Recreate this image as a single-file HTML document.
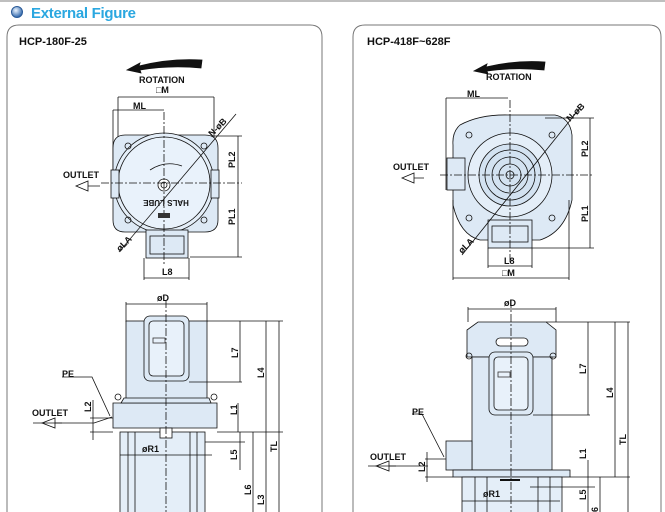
<!DOCTYPE html>
<html><head><meta charset="utf-8"><style>
html,body{margin:0;padding:0;background:#fff;width:665px;height:512px;overflow:hidden}
svg{display:block}
text{font-family:"Liberation Sans",sans-serif;font-weight:bold;fill:#111}
</style></head><body>
<svg width="665" height="512" viewBox="0 0 665 512" xmlns="http://www.w3.org/2000/svg">
<defs>
<radialGradient id="g" cx="40%" cy="35%" r="60%"><stop offset="0" stop-color="#eaf4ff"/><stop offset="1" stop-color="#3b6fb0"/></radialGradient>
</defs>
<line x1="0" y1="1" x2="665" y2="1" stroke="#aaa" stroke-width="1.5"/>
<circle cx="17" cy="12" r="5.5" fill="url(#g)" stroke="#2a5a98"/>
<text x="31" y="18" font-size="15" style="fill:#2aa7e0;letter-spacing:-0.3px">External  Figure</text>
<path d="M7,520 V37 Q7,25 19,25 H310 Q322,25 322,37 V520" fill="none" stroke="#777" stroke-width="1"/>
<path d="M353,520 V37 Q353,25 365,25 H649 Q661,25 661,37 V520" fill="none" stroke="#777" stroke-width="1"/>
<text x="19" y="45" font-size="11">HCP-180F-25</text>
<text x="367" y="45" font-size="11">HCP-418F~628F</text>

<g stroke="#111" stroke-width="0.8" fill="none">
<path d="M127,70 L140,63 L139,66 Q170,58 202,60 L201,68 Q170,65 140,70 L141,73 Z" fill="#111"/>
<line x1="118" y1="97" x2="214" y2="97"/><line x1="118" y1="97" x2="118" y2="180"/><line x1="214" y1="97" x2="214" y2="140"/>
<line x1="113" y1="110" x2="164" y2="110"/><line x1="113" y1="110" x2="113" y2="180"/>
<path d="M125,135 H205 Q218,135 218,148 V220 Q218,232 205,232 H125 Q113,232 113,220 V148 Q113,135 125,135 Z" fill="#dde9f5"/>
<circle cx="164" cy="183" r="50" fill="#e4eef8"/>
<circle cx="164" cy="183" r="46" fill="#e9f2fb"/>
<circle cx="164" cy="185" r="6" fill="#fff"/><circle cx="164" cy="185" r="3"/>
<rect x="146" y="230" width="42" height="28" fill="#dde9f5"/><rect x="150" y="236" width="34" height="18"/>
<rect x="111" y="170" width="8" height="28" fill="#dde9f5"/><rect x="211" y="170" width="8" height="28" fill="#dde9f5"/>
<circle cx="128" cy="146" r="3"/><circle cx="204" cy="146" r="3"/><circle cx="128" cy="220" r="3"/><circle cx="204" cy="220" r="3"/>
<path d="M150,170 Q165,160 182,166"/>
<line x1="101" y1="183" x2="242" y2="183" stroke-dasharray="8,2,2,2"/>
<line x1="164" y1="112" x2="164" y2="265" stroke-dasharray="8,2,2,2"/>
<line x1="119" y1="252" x2="236" y2="114"/>
<line x1="212" y1="136" x2="242" y2="136"/><line x1="190" y1="257" x2="242" y2="257"/>
<line x1="238" y1="136" x2="238" y2="257"/>
<line x1="144" y1="258" x2="144" y2="280"/><line x1="189" y1="258" x2="189" y2="280"/><line x1="144" y1="278" x2="189" y2="278"/>
<path d="M76,186 L88,181 V191 Z M88,186 H100"/>
</g>
<text x="139" y="83" font-size="9">ROTATION</text>
<text x="156" y="93" font-size="9">□M</text>
<text x="133" y="109" font-size="9">ML</text>
<text x="63" y="178" font-size="9">OUTLET</text>
<text x="166" y="206" font-size="8" text-anchor="middle" transform="rotate(180 166 203)">HALS LUBE</text>
<rect x="158" y="213" width="12" height="5" fill="#333"/>
<text x="235" y="168" font-size="9" transform="rotate(-90 235 168)">PL2</text>
<text x="235" y="225" font-size="9" transform="rotate(-90 235 225)">PL1</text>
<text x="212" y="137" font-size="9" transform="rotate(-45 212 137)">N-øB</text>
<text x="120" y="252" font-size="9" transform="rotate(-45 120 252)">øLA</text>
<text x="162" y="275" font-size="9">L8</text>

<g stroke="#111" stroke-width="0.8" fill="none">
<line x1="126" y1="304" x2="207" y2="304"/><line x1="126" y1="302" x2="126" y2="322"/><line x1="207" y1="302" x2="207" y2="322"/>
<rect x="126" y="321" width="81" height="78" fill="#dde9f5"/>
<rect x="144" y="316" width="45" height="65" rx="6" fill="#dde9f5"/><rect x="149" y="321" width="35" height="55" rx="4" fill="#e8f1fa"/>
<path d="M113,403 H217 V428 H113 Z" fill="#dde9f5"/><path d="M124,398 H209 L211,403 H121 Z" fill="#dde9f5"/>
<circle cx="118" cy="397" r="3"/><circle cx="214" cy="397" r="3"/>
<rect x="120" y="432" width="85" height="85" fill="#e4eef8"/>
<line x1="128" y1="432" x2="128" y2="512"/><line x1="135" y1="432" x2="135" y2="512"/><line x1="190" y1="432" x2="190" y2="512"/><line x1="197" y1="432" x2="197" y2="512"/>
<rect x="160" y="428" width="12" height="10" fill="#fff"/>
<line x1="166" y1="300" x2="166" y2="512" stroke-dasharray="8,2,2,2"/>
<line x1="207" y1="321" x2="283" y2="321"/><line x1="189" y1="382" x2="242" y2="382"/>
<line x1="240" y1="321" x2="240" y2="382"/><line x1="266" y1="321" x2="266" y2="432"/><line x1="279" y1="321" x2="279" y2="512"/>
<line x1="217" y1="432" x2="283" y2="432"/><line x1="238" y1="403" x2="238" y2="432"/>
<line x1="205" y1="442" x2="245" y2="442"/><line x1="240" y1="432" x2="240" y2="470"/>
<line x1="253" y1="432" x2="253" y2="512"/><line x1="266" y1="432" x2="266" y2="512"/>
<line x1="120" y1="455" x2="212" y2="455"/>
<line x1="90" y1="418" x2="113" y2="418"/><line x1="90" y1="432" x2="113" y2="432"/><line x1="93" y1="400" x2="93" y2="440"/>
<path d="M33,423 H94 L112,417"/>
<path d="M42,423 L55,418 V428 Z M55,423 H62"/>
<path d="M62,377 H92 L110,416"/>
</g>
<text x="157" y="301" font-size="9">øD</text>
<rect x="153" y="338" width="12" height="5" fill="none" stroke="#333" stroke-width="0.8"/>
<text x="62" y="377" font-size="9">PE</text>
<text x="32" y="416" font-size="9">OUTLET</text>
<text x="91" y="412" font-size="9" transform="rotate(-90 91 412)">L2</text>
<text x="238" y="358" font-size="9" transform="rotate(-90 238 358)">L7</text>
<text x="264" y="378" font-size="9" transform="rotate(-90 264 378)">L4</text>
<text x="237" y="415" font-size="9" transform="rotate(-90 237 415)">L1</text>
<text x="237" y="460" font-size="9" transform="rotate(-90 237 460)">L5</text>
<text x="251" y="495" font-size="9" transform="rotate(-90 251 495)">L6</text>
<text x="264" y="505" font-size="9" transform="rotate(-90 264 505)">L3</text>
<text x="277" y="452" font-size="9" transform="rotate(-90 277 452)">TL</text>
<text x="142" y="452" font-size="9">øR1</text>

<g stroke="#111" stroke-width="0.8" fill="none">
<path d="M474,71 L487,64 L486,67 Q515,60 545,62 L544,70 Q515,67 487,71 L488,74 Z" fill="#111"/>
<line x1="446" y1="98" x2="508" y2="98"/><line x1="446" y1="98" x2="446" y2="190"/>
<path d="M460,125 Q480,114 510,115 H555 Q570,118 572,135 V200 Q565,232 540,240 H480 Q460,235 453,205 V145 Q452,132 460,125 Z" fill="#dde9f5"/>
<circle cx="510" cy="175" r="42" fill="#e4eef8"/>
<circle cx="510" cy="175" r="31" fill="#d3e2f1"/>
<circle cx="510" cy="175" r="25"/><circle cx="510" cy="175" r="18"/><circle cx="510" cy="175" r="11"/><circle cx="510" cy="175" r="4"/>
<rect x="447" y="158" width="18" height="32" fill="#dde9f5"/>
<rect x="488" y="220" width="44" height="28" fill="#dde9f5"/><rect x="492" y="226" width="36" height="16"/>
<circle cx="469" cy="135" r="3"/><circle cx="552" cy="135" r="3"/><circle cx="469" cy="218" r="3"/><circle cx="552" cy="218" r="3"/>
<line x1="440" y1="175" x2="594" y2="175" stroke-dasharray="8,2,2,2"/>
<line x1="510" y1="100" x2="510" y2="262" stroke-dasharray="8,2,2,2"/>
<line x1="462" y1="255" x2="580" y2="108"/>
<line x1="545" y1="118" x2="594" y2="118"/><line x1="532" y1="248" x2="594" y2="248"/>
<line x1="590" y1="118" x2="590" y2="248"/>
<line x1="488" y1="248" x2="488" y2="268"/><line x1="532" y1="248" x2="532" y2="268"/><line x1="488" y1="266" x2="532" y2="266"/>
<line x1="453" y1="200" x2="453" y2="280"/><line x1="569" y1="200" x2="569" y2="280"/><line x1="453" y1="278" x2="569" y2="278"/>
<path d="M402,178 L414,173 V183 Z M414,178 H424"/>
</g>
<text x="486" y="80" font-size="9">ROTATION</text>
<text x="467" y="97" font-size="9">ML</text>
<text x="393" y="170" font-size="9">OUTLET</text>
<text x="588" y="157" font-size="9" transform="rotate(-90 588 157)">PL2</text>
<text x="588" y="222" font-size="9" transform="rotate(-90 588 222)">PL1</text>
<text x="570" y="122" font-size="9" transform="rotate(-45 570 122)">N-øB</text>
<text x="462" y="254" font-size="9" transform="rotate(-45 462 254)">øLA</text>
<text x="504" y="264" font-size="9">L8</text>
<text x="502" y="276" font-size="9">□M</text>

<g stroke="#111" stroke-width="0.8" fill="none">
<line x1="468" y1="309" x2="556" y2="309"/><line x1="468" y1="307" x2="468" y2="322"/><line x1="556" y1="307" x2="556" y2="322"/>
<path d="M478,322 H546 L556,330 V357 H467 V330 Z" fill="#dde9f5"/>
<rect x="472" y="357" width="80" height="113" fill="#dde9f5"/>
<rect x="496" y="338" width="32" height="8" rx="4" fill="#fff"/>
<circle cx="469" cy="356" r="3"/><circle cx="553" cy="356" r="3"/>
<rect x="489" y="352" width="44" height="63" rx="6" fill="#dde9f5"/><rect x="494" y="357" width="34" height="53" rx="4" fill="#e8f1fa"/>
<rect x="446" y="441" width="26" height="29" fill="#dde9f5"/>
<rect x="453" y="470" width="117" height="7" fill="#dde9f5"/>
<rect x="462" y="477" width="100" height="40" fill="#e4eef8"/>
<line x1="475" y1="477" x2="475" y2="512"/><line x1="487" y1="477" x2="487" y2="512"/><line x1="538" y1="477" x2="538" y2="512"/><line x1="550" y1="477" x2="550" y2="512"/>
<line x1="500" y1="480" x2="520" y2="480" stroke-width="2"/>
<line x1="511" y1="300" x2="511" y2="512" stroke-dasharray="8,2,2,2"/>
<line x1="546" y1="322" x2="630" y2="322"/><line x1="533" y1="415" x2="590" y2="415"/>
<line x1="588" y1="322" x2="588" y2="415"/><line x1="615" y1="322" x2="615" y2="477"/><line x1="628" y1="322" x2="628" y2="512"/>
<line x1="570" y1="477" x2="630" y2="477"/><line x1="588" y1="460" x2="588" y2="512"/>
<line x1="530" y1="487" x2="595" y2="487"/><line x1="600" y1="477" x2="600" y2="512"/>
<line x1="462" y1="501" x2="560" y2="501"/>
<line x1="425" y1="459" x2="446" y2="459"/><line x1="425" y1="477" x2="453" y2="477"/><line x1="427" y1="452" x2="427" y2="482"/>
<path d="M368,466 H428"/><path d="M376,466 L389,461 V471 Z M389,466 H396"/>
<path d="M412,414 H422 L444,457"/>
</g>
<text x="504" y="306" font-size="9">øD</text>
<rect x="498" y="372" width="12" height="5" fill="none" stroke="#333" stroke-width="0.8"/>
<text x="412" y="415" font-size="9">PE</text>
<text x="370" y="460" font-size="9">OUTLET</text>
<text x="425" y="472" font-size="9" transform="rotate(-90 425 472)">L2</text>
<text x="586" y="374" font-size="9" transform="rotate(-90 586 374)">L7</text>
<text x="613" y="398" font-size="9" transform="rotate(-90 613 398)">L4</text>
<text x="586" y="459" font-size="9" transform="rotate(-90 586 459)">L1</text>
<text x="586" y="500" font-size="9" transform="rotate(-90 586 500)">L5</text>
<text x="598" y="512" font-size="9" transform="rotate(-90 598 512)">6</text>
<text x="626" y="445" font-size="9" transform="rotate(-90 626 445)">TL</text>
<text x="483" y="497" font-size="9">øR1</text>
</svg>
</body></html>
